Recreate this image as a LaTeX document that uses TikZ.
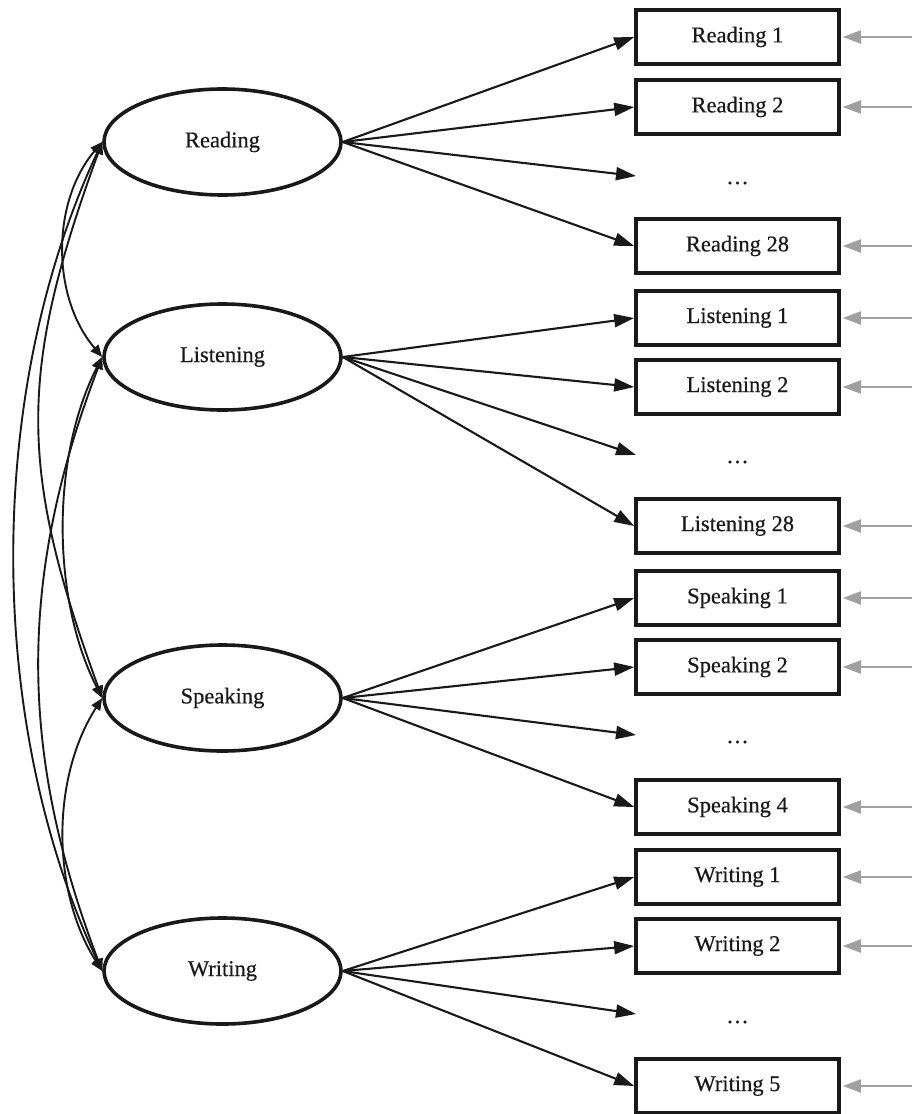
\documentclass[tikz,border=0pt]{standalone}
\usepackage{fontspec}
\setmainfont[FakeBold=0.5,AutoFakeBold=0.5]{Liberation Serif}
\usetikzlibrary{arrows.meta,calc,shapes.geometric}
\definecolor{errgray}{RGB}{160,160,160}
\definecolor{ink}{RGB}{25,25,25}
\begin{document}
\begin{tikzpicture}[x=1pt,y=-1pt,
 txt/.style={font=\fontsize{22.5}{26}\selectfont\addfontfeature{FakeBold=0.5},text=ink},
 latent/.style={ellipse,draw=ink,line width=3.6pt,minimum width=237pt,minimum height=106pt,inner sep=0pt,txt},
 obs/.style={rectangle,draw=ink,line width=3.6pt,minimum width=203pt,minimum height=54pt,inner sep=0pt,txt},
 dotsnode/.style={txt},
 load/.style={line width=2.1pt,draw=ink,-{Triangle[length=20pt,width=13pt]},ink},
 err/.style={line width=2pt,draw=errgray,-{Triangle[length=18pt,width=13pt]},errgray},
 cov/.style={line width=1.9pt,draw=ink,{Triangle[length=12pt,width=10pt]}-{Triangle[length=12pt,width=10pt]},ink}]
\useasboundingbox (0,0) rectangle (912,1114);

% latent variables
\node[latent] (R) at (222.5,142) {Reading};
\node[latent] (L) at (222.5,357) {Listening};
\node[latent] (S) at (222.5,698) {Speaking};
\node[latent] (W) at (222.5,971) {Writing};

% indicators
\node[obs] (r1) at (737.5,37) {Reading 1};
\node[obs] (r2) at (737.5,107) {Reading 2};
\node[dotsnode] (r3) at (737.5,183) {…};
\coordinate (r3a) at (636,176);
\node[obs] (r4) at (737.5,246) {Reading 28};

\node[obs] (l1) at (737.5,318) {Listening 1};
\node[obs] (l2) at (737.5,387) {Listening 2};
\node[dotsnode] (l3) at (737.5,462) {…};
\coordinate (l3a) at (636,455);
\node[obs] (l4) at (737.5,526) {Listening 28};

\node[obs] (s1) at (737.5,598) {Speaking 1};
\node[obs] (s2) at (737.5,667) {Speaking 2};
\node[dotsnode] (s3) at (737.5,742) {…};
\coordinate (s3a) at (636,735);
\node[obs] (s4) at (737.5,807) {Speaking 4};

\node[obs] (w1) at (737.5,877) {Writing 1};
\node[obs] (w2) at (737.5,946) {Writing 2};
\node[dotsnode] (w3) at (737.5,1022) {…};
\coordinate (w3a) at (636,1014);
\node[obs] (w4) at (737.5,1086) {Writing 5};

% loadings
\foreach \f/\a/\b/\c/\d in {R/r1/r2/r3a/r4, L/l1/l2/l3a/l4, S/s1/s2/s3a/s4, W/w1/w2/w3a/w4}{
  \draw[load] (\f.east) -- (\a.west);
  \draw[load] (\f.east) -- (\b.west);
  \draw[load] (\f.east) -- (\c);
  \draw[load] (\f.east) -- (\d.west);
}

% error terms
\foreach \n in {r1,r2,r4,l1,l2,l4,s1,s2,s4,w1,w2,w4}{
  \draw[err,shorten >=2pt] ($(\n.east)+(74,0)$) -- (\n.east);
}

% covariances
\draw[cov] (R.west) .. controls +(-51,60) and +(-51,-60) .. (L.west);
\draw[cov] (R.west) .. controls +(-84,230) and +(-84,-230) .. (S.west);
\draw[cov] (R.west) .. controls +(-117,250) and +(-117,-250) .. (W.west);
\draw[cov] (L.west) .. controls +(-51,100) and +(-51,-100) .. (S.west);
\draw[cov] (L.west) .. controls +(-84,220) and +(-84,-220) .. (W.west);
\draw[cov] (S.west) .. controls +(-51,80) and +(-51,-80) .. (W.west);
\end{tikzpicture}
\end{document}
